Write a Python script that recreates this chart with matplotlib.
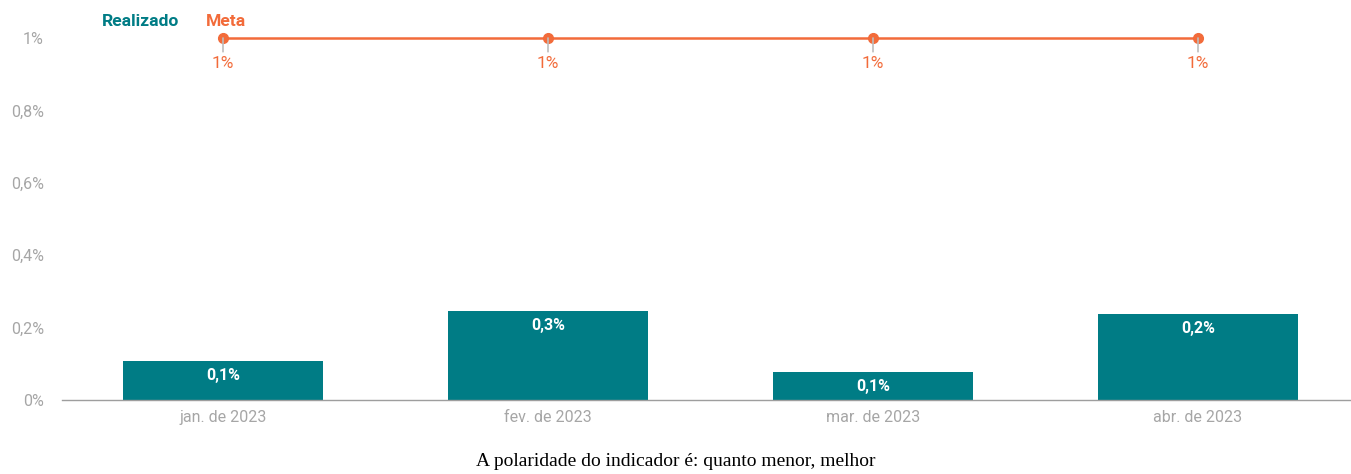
import matplotlib.pyplot as plt
import numpy as np

months = ["jan. de 2023", "fev. de 2023", "mar. de 2023", "abr. de 2023"]
realizado = [0.108, 0.246, 0.077, 0.238]
realizado_labels = ["0,1%", "0,3%", "0,1%", "0,2%"]
meta = [1.0, 1.0, 1.0, 1.0]
meta_labels = ["1%", "1%", "1%", "1%"]
yticks = [0, 0.2, 0.4, 0.6, 0.8, 1.0]
ytick_labels = ["0%", "0,2%", "0,4%", "0,6%", "0,8%", "1%"]

teal = "#007C85"
orange = "#F26B3A"
gray = "#A6A6A6"

plt.rcParams['font.family'] = ['Roboto', 'DejaVu Sans']

W, H = 1351, 474
fig = plt.figure(figsize=(W / 100, H / 100), dpi=100)
left, right, bottom, top = 62, 1350, 400, 30
ax = fig.add_axes([left / W, 1 - bottom / H, (right - left) / W, (bottom - top) / H])

x = np.arange(len(months))
ax.bar(x, realizado, width=0.617, color=teal, zorder=2)
for xi, v, lab in zip(x, realizado, realizado_labels):
    ax.annotate(lab, (xi, v), xytext=(0, -5), textcoords="offset points",
                ha="center", va="top", color="white", fontsize=11.5, fontweight="bold")

ax.plot(x, meta, color=orange, lw=1.8, marker="o", markersize=7, clip_on=False, zorder=3)
for xi, v, lab in zip(x, meta, meta_labels):
    ax.annotate("", xy=(xi, v), xytext=(xi, v - 0.038),
                arrowprops=dict(arrowstyle="-", color="#BDBDBD", lw=1.2, shrinkA=0, shrinkB=0))
    ax.annotate(lab, (xi, v), xytext=(0, -13), textcoords="offset points",
                ha="center", va="top", color=orange, fontsize=12.5)

ax.set_xlim((left - 223) / 325, (right - 223) / 325)
ax.set_ylim(0, (bottom - top) / 362)
ax.set_xticks(x)
ax.set_xticklabels(months, color=gray, fontsize=11.5)
ax.set_yticks(yticks)
ax.set_yticklabels(ytick_labels, color=gray, fontsize=11.5)
ax.tick_params(axis="both", length=0)
ax.tick_params(axis="x", pad=7)
ax.tick_params(axis="y", pad=13)
for s in ["top", "right", "left"]:
    ax.spines[s].set_visible(False)
ax.spines["bottom"].set_color("#9E9E9E")
ax.spines["bottom"].set_linewidth(1)

fig.text(102 / W, 1 - 22 / H, "Realizado", color=teal, fontsize=12.6, fontweight="bold", va="center")
fig.text(206 / W, 1 - 22 / H, "Meta", color=orange, fontsize=12.6, fontweight="bold", va="center")

fig.text(676 / W, 1 - 461 / H, "A polaridade do indicador é: quanto menor, melhor",
         ha="center", va="center", fontsize=14, color="black", family="Liberation Serif")

fig.savefig("out.png", dpi=100)
